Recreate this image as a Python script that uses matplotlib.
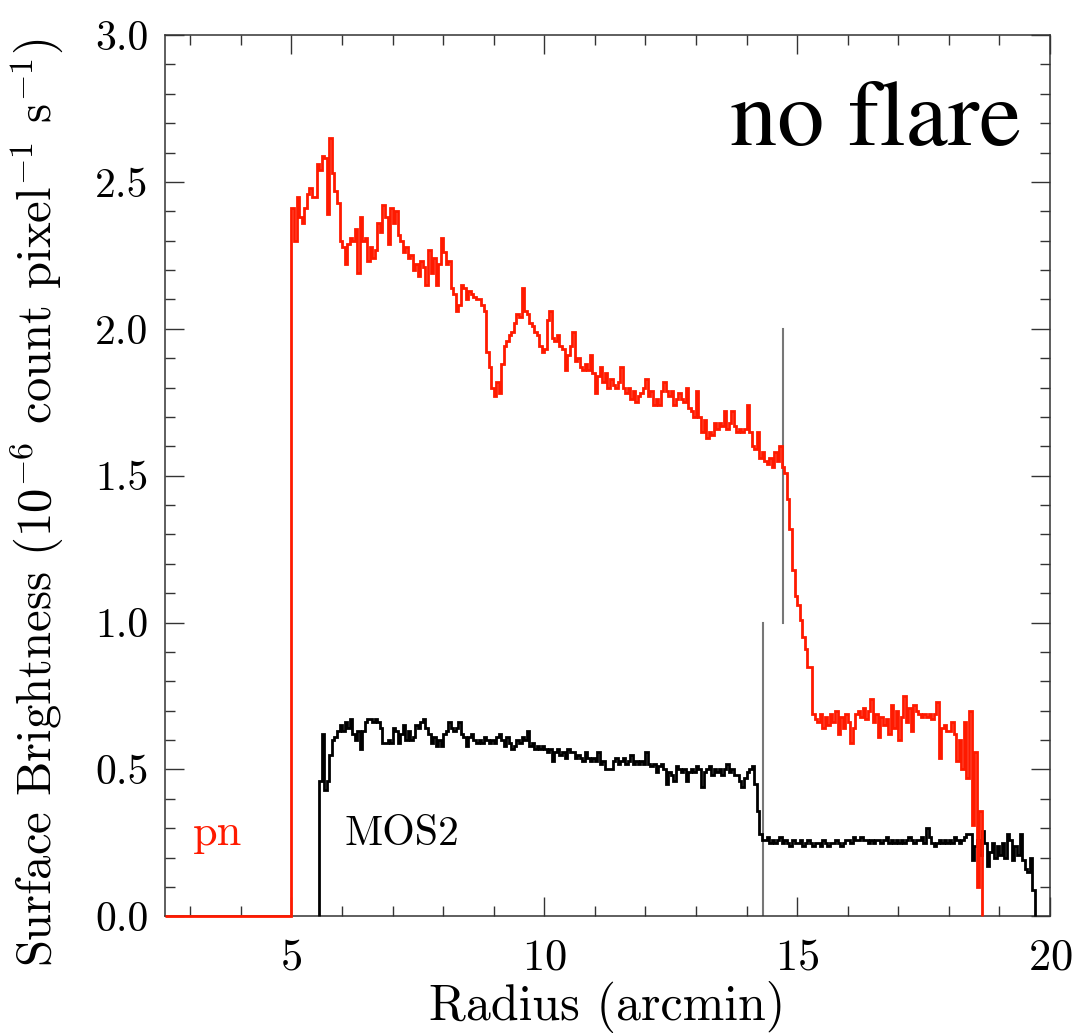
import numpy as np
import matplotlib
matplotlib.use("Agg")
import matplotlib.pyplot as plt
from matplotlib.ticker import MultipleLocator, FormatStrFormatter

plt.rcParams['font.family'] = 'cmr10'
plt.rcParams['mathtext.fontset'] = 'cm'
plt.rcParams['axes.formatter.use_mathtext'] = True

# radial profiles, 0.05 arcmin bins (10^-6 count pixel^-1 s^-1)
bin_width = 0.05
x_min, x_max = 2.5, 20.0

pn_start = 5.0
pn_sb = [
    2.41, 2.30, 2.45, 2.38, 2.36, 2.41, 2.46, 2.48, 2.45, 2.45, 2.56, 2.54, 2.59, 2.58, 2.39, 2.65, 2.53, 2.47, 2.43, 2.30,
    2.28, 2.22, 2.29, 2.31, 2.30, 2.34, 2.19, 2.38, 2.30, 2.31, 2.23, 2.28, 2.24, 2.27, 2.36, 2.33, 2.42, 2.38, 2.29, 2.41,
    2.36, 2.40, 2.32, 2.30, 2.26, 2.28, 2.24, 2.25, 2.20, 2.22, 2.18, 2.23, 2.21, 2.15, 2.27, 2.19, 2.24, 2.15, 2.22, 2.31,
    2.26, 2.22, 2.23, 2.14, 2.12, 2.06, 2.08, 2.15, 2.14, 2.10, 2.13, 2.12, 2.11, 2.10, 2.10, 2.08, 2.06, 1.92, 1.87, 1.80,
    1.77, 1.82, 1.78, 1.88, 1.94, 1.96, 1.98, 1.99, 2.02, 2.05, 2.04, 2.14, 2.06, 2.05, 2.02, 2.01, 1.99, 1.98, 1.94, 1.92,
    1.93, 2.03, 2.06, 1.97, 1.96, 1.98, 1.94, 1.93, 1.86, 1.91, 1.94, 1.99, 1.89, 1.90, 1.87, 1.86, 1.88, 1.86, 1.91, 1.85,
    1.78, 1.84, 1.87, 1.82, 1.85, 1.80, 1.83, 1.81, 1.80, 1.82, 1.87, 1.80, 1.78, 1.80, 1.76, 1.79, 1.75, 1.77, 1.78, 1.80,
    1.83, 1.77, 1.79, 1.74, 1.76, 1.74, 1.79, 1.82, 1.79, 1.77, 1.79, 1.74, 1.76, 1.78, 1.76, 1.75, 1.80, 1.73, 1.72, 1.70,
    1.79, 1.70, 1.65, 1.69, 1.63, 1.65, 1.64, 1.68, 1.66, 1.68, 1.67, 1.72, 1.66, 1.68, 1.72, 1.67, 1.65, 1.66, 1.65, 1.66,
    1.74, 1.65, 1.60, 1.59, 1.65, 1.56, 1.58, 1.55, 1.54, 1.56, 1.53, 1.58, 1.55, 1.60, 1.53, 1.51, 1.42, 1.32, 1.18, 1.09,
    1.06, 1.01, 0.95, 0.91, 0.85, 0.85, 0.69, 0.67, 0.66, 0.69, 0.64, 0.68, 0.65, 0.69, 0.66, 0.70, 0.62, 0.68, 0.64, 0.69,
    0.66, 0.59, 0.64, 0.69, 0.70, 0.68, 0.71, 0.67, 0.70, 0.74, 0.66, 0.69, 0.61, 0.68, 0.65, 0.67, 0.62, 0.72, 0.64, 0.70,
    0.60, 0.68, 0.75, 0.66, 0.71, 0.63, 0.72, 0.70, 0.69, 0.68, 0.69, 0.68, 0.69, 0.67, 0.69, 0.73, 0.54, 0.64, 0.65, 0.63,
    0.63, 0.66, 0.62, 0.53, 0.60, 0.50, 0.66, 0.47, 0.70, 0.31, 0.56, 0.10, 0.36,
]

mos2_start = 5.55
mos2_sb = [
    0.46, 0.62, 0.43, 0.46, 0.55, 0.60, 0.61, 0.63, 0.65,
    0.63, 0.66, 0.64, 0.67, 0.62, 0.60, 0.63, 0.57, 0.63, 0.66, 0.67, 0.67, 0.66, 0.67, 0.66, 0.64, 0.59, 0.59, 0.60, 0.59,
    0.64, 0.63, 0.59, 0.62, 0.65, 0.60, 0.63, 0.60, 0.61, 0.65, 0.64, 0.66, 0.67, 0.64, 0.62, 0.59, 0.61, 0.58, 0.60, 0.58,
    0.62, 0.63, 0.66, 0.64, 0.63, 0.64, 0.66, 0.62, 0.61, 0.58, 0.61, 0.62, 0.60, 0.59, 0.60, 0.59, 0.61, 0.60, 0.59, 0.60,
    0.59, 0.61, 0.62, 0.60, 0.58, 0.61, 0.59, 0.57, 0.58, 0.60, 0.59, 0.61, 0.60, 0.63, 0.58, 0.59, 0.57, 0.58, 0.57, 0.58,
    0.57, 0.56, 0.57, 0.53, 0.56, 0.57, 0.55, 0.56, 0.54, 0.57, 0.56, 0.56, 0.54, 0.55, 0.54, 0.53, 0.56, 0.54, 0.53, 0.54,
    0.53, 0.56, 0.52, 0.53, 0.50, 0.50, 0.50, 0.53, 0.54, 0.52, 0.53, 0.54, 0.52, 0.53, 0.55, 0.52, 0.53, 0.52, 0.53, 0.52,
    0.56, 0.52, 0.51, 0.52, 0.49, 0.51, 0.52, 0.50, 0.45, 0.49, 0.48, 0.46, 0.51, 0.50, 0.49, 0.50, 0.46, 0.49, 0.50, 0.49,
    0.51, 0.50, 0.44, 0.49, 0.50, 0.51, 0.48, 0.50, 0.49, 0.50, 0.48, 0.50, 0.52, 0.49, 0.50, 0.48, 0.48, 0.46, 0.44, 0.47,
    0.49, 0.50, 0.51, 0.45, 0.36, 0.28, 0.26, 0.26, 0.27, 0.25, 0.26, 0.25, 0.26, 0.27, 0.25, 0.26, 0.25, 0.24, 0.26, 0.25,
    0.25, 0.26, 0.24, 0.25, 0.26, 0.25, 0.24, 0.25, 0.25, 0.24, 0.26, 0.25, 0.24, 0.25, 0.25, 0.26, 0.25, 0.24, 0.25, 0.26,
    0.26, 0.25, 0.27, 0.26, 0.26, 0.27, 0.26, 0.26, 0.25, 0.26, 0.25, 0.26, 0.26, 0.25, 0.26, 0.27, 0.25, 0.26, 0.25, 0.26,
    0.25, 0.26, 0.25, 0.26, 0.27, 0.26, 0.25, 0.26, 0.26, 0.27, 0.25, 0.30, 0.27, 0.25, 0.24, 0.25, 0.26, 0.25, 0.26, 0.25,
    0.26, 0.25, 0.27, 0.26, 0.25, 0.26, 0.27, 0.28, 0.28, 0.19, 0.24, 0.26, 0.21, 0.29, 0.25, 0.17, 0.22, 0.25, 0.20, 0.24,
    0.21, 0.25, 0.20, 0.28, 0.26, 0.19, 0.24, 0.21, 0.28, 0.19, 0.16, 0.15, 0.20, 0.09,
]

# grey markers: (x, ymin, ymax)
pn_edge = (14.73, 1.0, 2.0)
mos2_edge = (14.32, 0.0, 1.0)

fig = plt.figure(figsize=(10.79, 10.33), dpi=100)
ax = fig.add_axes([0.153, 0.113, 0.82, 0.853])

mos2_edges = mos2_start + bin_width * np.arange(len(mos2_sb) + 1)
ax.stairs(mos2_sb, mos2_edges, baseline=0, color='black', lw=2.0, zorder=3, clip_on=False)

# pn is zero below its inner radius
pn_edges = np.concatenate([[x_min], pn_start + bin_width * np.arange(len(pn_sb) + 1)])
ax.stairs([0.0] + pn_sb, pn_edges, baseline=0, color='#ff1a00', lw=2.0, zorder=4, clip_on=False)

for xe, y0, y1 in (pn_edge, mos2_edge):
    ax.plot([xe, xe], [y0, y1], color='#777777', lw=1.5, zorder=2)

ax.set_xlim(x_min, x_max)
ax.set_ylim(0, 3.0)
ax.xaxis.set_major_locator(MultipleLocator(5))
ax.xaxis.set_minor_locator(MultipleLocator(1))
ax.yaxis.set_major_locator(MultipleLocator(0.5))
ax.yaxis.set_minor_locator(MultipleLocator(0.1))
ax.yaxis.set_major_formatter(FormatStrFormatter('%.1f'))

ax.tick_params(which='both', direction='in', top=True, right=True, color='#333333')
ax.tick_params(which='major', length=14, width=1.0)
ax.tick_params(which='minor', length=7, width=1.0)
ax.tick_params(axis='x', labelsize=32, pad=16)
ax.tick_params(axis='y', labelsize=30, pad=12)
for s in ax.spines.values():
    s.set_color('#333333')
    s.set_linewidth(1.1)

ax.set_xlabel('Radius (arcmin)', fontsize=36, labelpad=2)
ax.set_ylabel(r'Surface Brightness (10$^{-6}$ count pixel$^{-1}$ s$^{-1}$)', fontsize=35)
ax.yaxis.set_label_coords(-0.113, 0.47)

ax.text(3.05, 0.28, 'pn', color='#ff1a00', fontsize=32, va='center')
ax.text(6.05, 0.28, 'MOS2', color='black', fontsize=30, va='center')
ax.text(19.44, 2.625, 'no flare', family='STIXGeneral', fontsize=68, ha='right', va='baseline')

fig.savefig('out.png', dpi=100)
